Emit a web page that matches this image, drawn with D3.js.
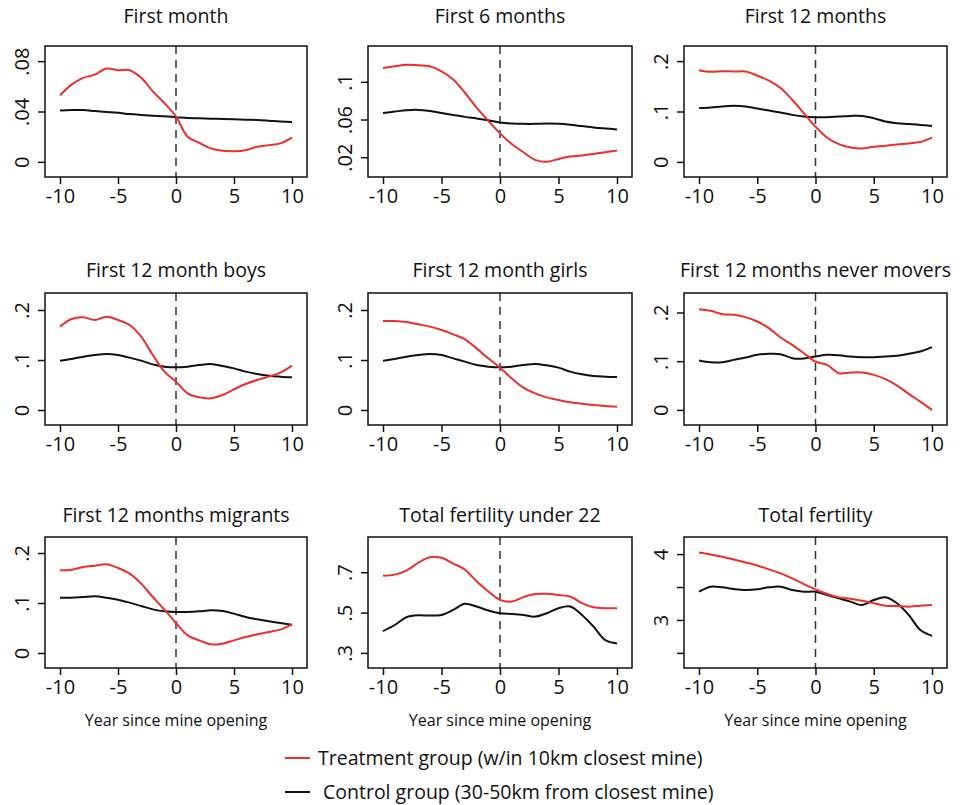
<!DOCTYPE html>
<html lang="en">
<head>
<meta charset="UTF-8">
<title>Fertility around mine opening</title>
<style>
  body { margin: 0; background: #fff; }
  svg { display: block; font-family: "Open Sans", sans-serif; }
</style>
<script src="https://cdn.jsdelivr.net/npm/d3@7/dist/d3.min.js"></script>
</head>
<body>
<svg width="964" height="805"></svg>
<script>
// years since mine opening (same for every panel)
var years = [-10, -9, -8, -7, -6, -5, -4, -3, -2, -1, 0, 1, 2, 3, 4, 5, 6, 7, 8, 9, 10];
var xTicks = [-10, -5, 0, 5, 10];

var titles = ["First month", "First 6 months", "First 12 months",
              "First 12 month boys", "First 12 month girls", "First 12 months never movers",
              "First 12 months migrants", "Total fertility under 22", "Total fertility"];

// treatment (red) and control (black) series
var firstMonthT = [.0528, .0613, .0667, .0693, .0741, .0728, .0728, .0667, .056, .0467, .036, .020, .0152, .0107, .0088, .0085, .0093, .012, .0133, .0147, .0192];
var firstMonthC = [.0408, .0411, .0411, .0404, .0397, .0390, .0380, .0373, .0367, .0362, .0355, .0348, .0346, .0343, .0341, .0338, .0335, .0333, .0327, .0320, .0317];

var first6T = [.1147, .1165, .1182, .1175, .1165, .1112, .1025, .0884, .0726, .0586, .0453, .034, .0253, .0172, .0151, .0182, .0207, .0218, .0235, .0253, .027];
var first6C = [.067, .0684, .0698, .0702, .0691, .067, .0649, .0628, .0611, .0593, .0568, .0558, .0554, .0554, .0558, .0554, .0544, .053, .0516, .0505, .0495];

var first12T = [.182, .1787, .18, .1793, .1793, .1713, .1613, .1467, .1233, .0967, .07, .048, .0353, .0287, .0267, .030, .032, .0347, .0367, .0393, .048];
var first12C = [.1067, .108, .110, .1113, .110, .106, .102, .098, .0933, .090, .0887, .0887, .090, .0913, .0913, .0867, .080, .0767, .0753, .0733, .0713];

var boysT = [.1667, .182, .1853, .180, .1867, .180, .170, .1467, .110, .0767, .0567, .0333, .0253, .0233, .030, .0413, .052, .060, .0667, .0747, .0887];
var boysC = [.0987, .102, .1067, .110, .112, .110, .1047, .0987, .0913, .0867, .0853, .0867, .090, .092, .088, .0833, .0767, .072, .0687, .0667, .0653];

var girlsT = [.178, .178, .176, .1713, .1667, .160, .1513, .1413, .1233, .1033, .0847, .0633, .0447, .0333, .0253, .020, .0153, .0127, .010, .008, .0067];
var girlsC = [.0987, .102, .1067, .110, .112, .110, .1033, .0967, .090, .0867, .0853, .0867, .090, .092, .0893, .0847, .0767, .0713, .068, .0667, .066];

var neverT = [.2068, .2034, .1966, .1952, .1904, .1815, .1678, .1486, .1336, .1164, .0993, .0925, .0753, .0767, .0767, .0719, .063, .050, .0329, .0171, 0];
var neverC = [.1014, .0979, .0979, .1027, .1075, .113, .1151, .1144, .1062, .1055, .1096, .113, .1123, .1096, .1082, .1082, .1096, .111, .1151, .1199, .1288];

var migrantsT = [.1653, .1667, .172, .1747, .1773, .170, .1587, .1387, .112, .0867, .060, .0353, .0253, .0173, .0187, .0253, .032, .0373, .042, .0467, .0573];
var migrantsC = [.1107, .1107, .112, .1133, .1107, .1067, .1007, .094, .0873, .0833, .082, .082, .0833, .0853, .084, .0787, .072, .0673, .0633, .060, .0567];

var under22T = [.6833, .6883, .7083, .7467, .775, .7717, .7433, .7133, .655, .605, .5633, .555, .5767, .5917, .5933, .5867, .580, .5467, .5267, .5217, .5217];
var under22C = [.4083, .4383, .4767, .4867, .485, .4883, .5133, .5433, .530, .510, .4967, .4933, .4883, .480, .4967, .5217, .530, .4883, .430, .3633, .3467];

var totalT = [4.025, 3.995, 3.96, 3.919, 3.874, 3.828, 3.768, 3.707, 3.631, 3.545, 3.465, 3.394, 3.343, 3.323, 3.293, 3.253, 3.217, 3.212, 3.202, 3.217, 3.227];
var totalC = [3.429, 3.505, 3.495, 3.47, 3.455, 3.465, 3.495, 3.505, 3.455, 3.429, 3.429, 3.379, 3.328, 3.278, 3.227, 3.303, 3.343, 3.253, 3.076, 2.848, 2.758];

var treatment = [firstMonthT, first6T, first12T, boysT, girlsT, neverT, migrantsT, under22T, totalT];
var control = [firstMonthC, first6C, first12C, boysC, girlsC, neverC, migrantsC, under22C, totalC];

// y axis ticks and labels per panel
var yTicks = [[0, .04, .08], [.02, .06, .1], [0, .1, .2], [0, .1, .2], [0, .1, .2],
              [0, .1, .2], [0, .1, .2], [.3, .5, .7], [2.5, 3, 3.5, 4]];
var yLabels = [["0", ".04", ".08"], [".02", ".06", ".1"], ["0", ".1", ".2"], ["0", ".1", ".2"], ["0", ".1", ".2"],
               ["0", ".1", ".2"], ["0", ".1", ".2"], [".3", ".5", ".7"], ["", "3", "", "4"]];
var yDomains = [[-.012, .092], [-.001, .138], [-.03, .23], [-.03, .234], [-.03, .234],
                [-.031, .24], [-.03, .232], [.225, .875], [2.27, 4.26]];

var legendLabels = ["Treatment group (w/in 10km closest mine)", "Control group (30-50km from closest mine)"];

// layout
var colLeft = [45, 368, 684], colRight = [307, 632, 947];
var rowTop = [46, 293, 537], rowBottom = [177, 425, 668];
var titleY = [23, 277, 522];
var red = "#ee2e2a", black = "#111";

var svg = d3.select("svg");

titles.forEach(function(title, i) {
    var r = Math.floor(i / 3), c = i % 3;
    var left = colLeft[c], right = colRight[c], top = rowTop[r], bottom = rowBottom[r];

    var x = d3.scaleLinear().domain([-10, 10]).range([left + 15, right - 15]);
    var y = d3.scaleLinear().domain(yDomains[i]).range([bottom, top]);

    var g = svg.append("g");

    g.append("text")
        .attr("x", (left + right) / 2)
        .attr("y", titleY[r])
        .attr("text-anchor", "middle")
        .style("font-size", "19.5px")
        .attr("fill", "#111")
        .text(title);

    // x axis (plain hyphen for negatives, like the original)
    var xa = g.append("g")
        .attr("transform", "translate(0," + bottom + ")")
        .call(d3.axisBottom(x).tickValues(xTicks).tickSize(7).tickPadding(5).tickFormat(function(d) { return String(d); }));
    xa.select(".domain").remove();
    xa.selectAll("line").attr("stroke", "#111").attr("stroke-width", 1.5);
    xa.selectAll("text").style("font-size", "20px").attr("fill", "#111").style("font-family", "Open Sans, sans-serif");

    // y axis
    var ya = g.append("g")
        .attr("transform", "translate(" + left + ",0)")
        .call(d3.axisLeft(y).tickValues(yTicks[i]).tickSize(7).tickFormat(function(d, k) { return yLabels[i][k]; }));
    ya.select(".domain").remove();
    ya.selectAll("line").attr("stroke", "#111").attr("stroke-width", 1.5);
    ya.selectAll("text")
        .attr("x", null).attr("dy", null)
        .attr("transform", "translate(-16,0) rotate(-90)")
        .attr("text-anchor", "middle")
        .style("font-size", "20px").attr("fill", "#111")
        .style("font-family", "Open Sans, sans-serif");

    // dashed line at mine opening
    g.append("line")
        .attr("x1", x(0)).attr("x2", x(0))
        .attr("y1", top).attr("y2", bottom)
        .attr("stroke", "#333").attr("stroke-width", 1.5)
        .attr("stroke-dasharray", "8,6");

    var line = d3.line()
        .x(function(d, k) { return x(years[k]); })
        .y(function(d) { return y(d); })
        .curve(d3.curveCatmullRom.alpha(0.5));

    g.append("path").datum(control[i])
        .attr("fill", "none").attr("stroke", black).attr("stroke-width", 2)
        .attr("d", line);
    g.append("path").datum(treatment[i])
        .attr("fill", "none").attr("stroke", red).attr("stroke-width", 2)
        .attr("d", line);

    // frame
    g.append("rect")
        .attr("x", left).attr("y", top)
        .attr("width", right - left).attr("height", bottom - top)
        .attr("fill", "none").attr("stroke", "#111").attr("stroke-width", 1.5);

    if (r === 2) {
        g.append("text")
            .attr("x", (left + right) / 2)
            .attr("y", 726)
            .attr("text-anchor", "middle")
            .style("font-size", "16px")
            .attr("fill", "#111")
            .text("Year since mine opening");
    }
});

// legend
var legendColors = [red, black];
var legendY = [758, 792];
var legendTextX = [318, 323];
legendLabels.forEach(function(label, k) {
    svg.append("line")
        .attr("x1", 285).attr("x2", 310)
        .attr("y1", legendY[k]).attr("y2", legendY[k])
        .attr("stroke", legendColors[k]).attr("stroke-width", 2);
    svg.append("text")
        .attr("x", legendTextX[k]).attr("y", legendY[k] + 7)
        .style("font-size", "19.5px")
        .attr("fill", "#111")
        .text(label);
});
</script>
</body>
</html>
